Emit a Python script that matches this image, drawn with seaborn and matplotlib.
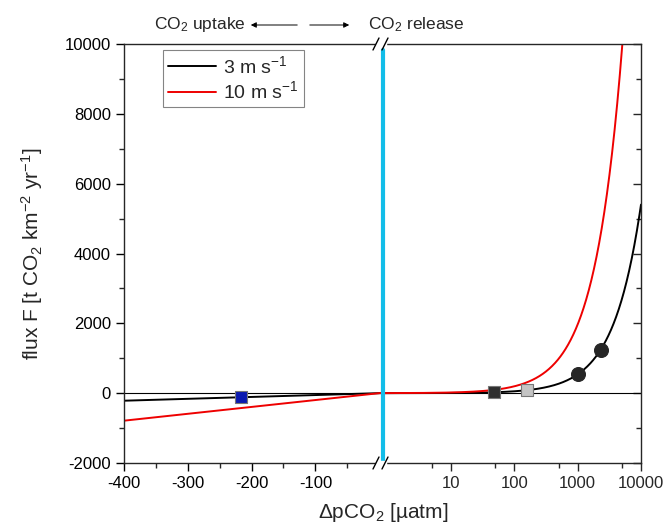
import matplotlib
matplotlib.use("Agg")
import matplotlib.pyplot as plt
from matplotlib.lines import Line2D
from matplotlib.patches import Rectangle, FancyArrowPatch
from matplotlib.ticker import FixedLocator, NullFormatter
import numpy as np
import seaborn as sns

W, H = 667, 530

# flux F = k * dpCO2, k for each wind speed
wind_labels = ["3 m s$^{-1}$", "10 m s$^{-1}$"]
wind_k = [0.54, 1.97]
wind_colors = ["black", "#ee0000"]

# x samples for the two halves of the broken axis
dp_left = np.linspace(-400, 6, 60)
dp_right = np.geomspace(0.84, 10000, 500)

# symbols
blue_x = [-217]
blue_y = [-117]
square_x = [47, 159]
square_y = [25, 86]
square_colors = ["#2e2e2e", "#c4c4c4"]
circle_x = [1000, 2300]
circle_y = [560, 1240]

left_ticks = [-400, -300, -200, -100]
left_minor = [-350, -250, -150, -50]
right_ticks = [10, 100, 1000, 10000]
right_minor = [5, 50, 500, 5000]
y_ticks = list(range(-2000, 10001, 2000))
y_minor = list(range(-1000, 10000, 2000))

sns.set_style("ticks")
plt.rcParams["font.family"] = ["Liberation Sans", "DejaVu Sans"]
plt.rcParams["mathtext.fontset"] = "custom"
plt.rcParams["mathtext.rm"] = "Liberation Sans"
plt.rcParams["mathtext.it"] = "Liberation Sans:italic"
plt.rcParams["axes.linewidth"] = 1.0


def fx(px):
    return px / W


def fy(py):
    return 1 - py / H


x0, xb, x1 = 124, 383, 641
y_top, y_bot = 44, 463

fig = plt.figure(figsize=(6.67, 5.30), dpi=100)
axL = fig.add_axes([fx(x0), fy(y_bot), fx(xb) - fx(x0), fy(y_top) - fy(y_bot)])
axR = fig.add_axes([fx(xb), fy(y_bot), fx(x1) - fx(xb), fy(y_top) - fy(y_bot)])

for lab, k, c in zip(wind_labels, wind_k, wind_colors):
    sns.lineplot(x=dp_left, y=k * dp_left, ax=axL, color=c, lw=1.4, label=lab)
    sns.lineplot(x=dp_right, y=k * dp_right, ax=axR, color=c, lw=1.4, legend=False)

for ax in (axL, axR):
    ax.axhline(0, color="black", lw=0.8, zorder=1)
    ax.set_ylim(-2000, 10000)
    ax.set_xlabel("")
    ax.set_ylabel("")

sns.scatterplot(x=blue_x, y=blue_y, ax=axL, marker="s", s=85, color="#0b1ab0",
                edgecolor="#777777", linewidth=0.8, zorder=5)
for xv, yv, c in zip(square_x, square_y, square_colors):
    sns.scatterplot(x=[xv], y=[yv], ax=axR, marker="s", s=85, color=c,
                    edgecolor="#777777", linewidth=0.8, zorder=5)
sns.scatterplot(x=circle_x, y=circle_y, ax=axR, marker="o", s=100, color="#262626",
                edgecolor="#262626", zorder=5)

# left half: linear
axL.set_xlim(-400, 6)
axL.set_xticks(left_ticks)
axL.set_xticklabels([str(t) for t in left_ticks])
axL.xaxis.set_minor_locator(FixedLocator(left_minor))
axL.set_yticks(y_ticks)
axL.set_yticklabels([str(t) for t in y_ticks])
axL.yaxis.set_minor_locator(FixedLocator(y_minor))
axL.spines["right"].set_visible(False)
axL.tick_params(axis="both", which="major", direction="out", length=6, width=1.0,
                labelsize=12, colors="black")
axL.tick_params(axis="both", which="minor", direction="out", length=3.5, width=1.0)
axL.tick_params(axis="y", which="both", right=False)
axL.tick_params(axis="x", which="both", top=False)
axL.set_ylabel("flux F [t CO$_2$ km$^{-2}$ yr$^{-1}$]", fontsize=15, labelpad=14)

# right half: log
axR.set_xscale("log")
axR.set_xlim(0.84, 10000)
axR.xaxis.set_major_locator(FixedLocator(right_ticks))
axR.set_xticklabels([str(t) for t in right_ticks])
axR.xaxis.set_minor_locator(FixedLocator(right_minor))
axR.xaxis.set_minor_formatter(NullFormatter())
axR.yaxis.set_minor_locator(FixedLocator(y_minor))
axR.set_yticks(y_ticks)
axR.spines["left"].set_visible(False)
axR.tick_params(axis="x", which="major", direction="out", length=6, width=1.0,
                labelsize=12, top=False)
axR.tick_params(axis="x", which="minor", direction="out", length=3.5, width=1.0, top=False)
axR.tick_params(axis="y", which="both", left=False, right=True, labelleft=False,
                direction="in")
axR.tick_params(axis="y", which="major", length=6, width=1.0)
axR.tick_params(axis="y", which="minor", length=3.5, width=1.0)

# cyan line at the axis break
axR.axvline(0.84, ymin=0, ymax=0.985, color="#12bde9", lw=3, clip_on=False, zorder=6)

# legend
leg = axL.legend(loc="upper left", bbox_to_anchor=(fx(163), fy(50)),
                 bbox_transform=fig.transFigure, frameon=True, fancybox=False,
                 edgecolor="#666666", handlelength=2.5, fontsize=14,
                 borderpad=0.25, labelspacing=0.2, handletextpad=0.35, borderaxespad=0)
leg.get_frame().set_linewidth(0.8)
leg.get_frame().set_facecolor("white")

# break marks top and bottom
for yb in (y_top, y_bot):
    fig.add_artist(Rectangle((fx(376), fy(yb + 2)), fx(386) - fx(376), fy(yb - 2) - fy(yb + 2),
                             transform=fig.transFigure, color="white", zorder=7))
    for xc in (376, 385):
        fig.add_artist(Line2D([fx(xc - 3), fx(xc + 3)], [fy(yb + 6), fy(yb - 6)],
                              transform=fig.transFigure, color="black", lw=1.0, zorder=8))

# top annotations
fig.text(fx(200), fy(25), "CO$_2$ uptake", ha="center", va="center", fontsize=12.5)
fig.text(fx(416), fy(25), "CO$_2$ release", ha="center", va="center", fontsize=12.5)
fig.add_artist(FancyArrowPatch(
    (fx(300), fy(25)), (fx(248), fy(25)), transform=fig.transFigure,
    arrowstyle="-|>", mutation_scale=8, color="black", lw=0.7))
fig.add_artist(FancyArrowPatch(
    (fx(307), fy(25)), (fx(352), fy(25)), transform=fig.transFigure,
    arrowstyle="-|>", mutation_scale=8, color="black", lw=0.7))

fig.text(fx(383), fy(512), "\u0394pCO$_2$ [\u00b5atm]", ha="center", va="center", fontsize=15)

fig.savefig("out.png", dpi=100)
